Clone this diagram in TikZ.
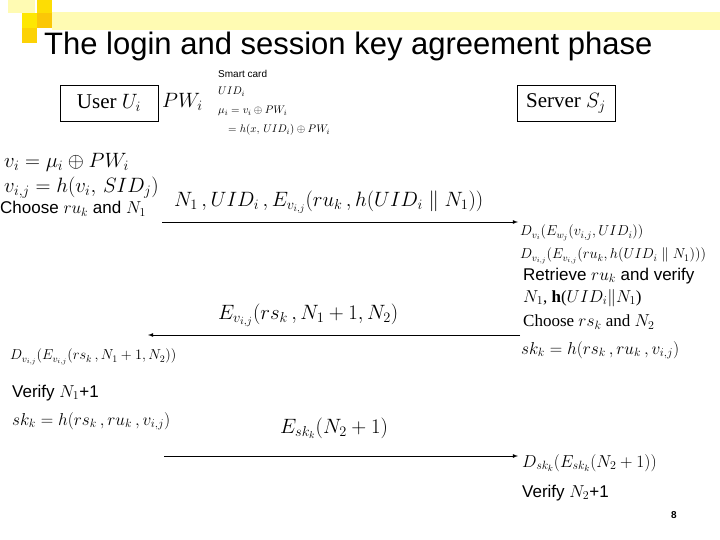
\documentclass[tikz,border=0pt]{standalone}
\usepackage{fontspec}
\setsansfont{Liberation Sans}
\setmainfont{Liberation Serif}
\newcommand{\fs}[1]{\fontsize{#1}{#1}\selectfont}
\begin{document}
\begin{tikzpicture}[x=1pt,y=-1pt,
 lab/.style={anchor=west,inner sep=0pt,font=\rmfamily\fs{20}},
 sm/.style={anchor=west,inner sep=0pt,font=\rmfamily\fs{11}},
 sf/.style={anchor=west,inner sep=0pt,font=\sffamily\fs{17}},
 msg/.style={-latex,thick}]
\useasboundingbox (0,0) rectangle (720,540);
\fill[yellow!30] (52,12) rectangle (720,30);
\fill[yellow!80!orange] (37,0) rectangle (52,13);
\fill[yellow!90!orange] (22,13) rectangle (37,28);
\fill[yellow!60!orange] (37,13) rectangle (52,28);
\fill[yellow!70!orange] (22,28) rectangle (37,43);
\fill[yellow!30] (8,0) rectangle (35,13);
\node[anchor=west,inner sep=0pt,font=\sffamily\fs{31}] (title) at (44,46) {The login and session key agreement phase};
\node[draw,thick,font=\rmfamily\fs{21},minimum width=98pt,minimum height=36pt] (user) at (109,103) {User $U_i$};
\node[draw,thick,font=\rmfamily\fs{21},minimum width=98pt,minimum height=36pt] (server) at (566,103) {Server $S_j$};
\node[lab,font=\rmfamily\fs{22}] (pw) at (162,102) {$PW_i$};
\node[sm,font=\sffamily\fs{10}] (sc) at (218,74) {Smart card};
\node[sm] (uid) at (218,92) {$UID_i$};
\node[sm] (mu) at (218,111) {$\mu_i=v_i\oplus PW_i$};
\node[sm] (mu2) at (228,130) {$=h(x,\,UID_i)\oplus PW_i$};
\node[lab] (vi) at (4,162) {$v_i=\mu_i\oplus PW_i$};
\node[lab] (vij) at (4,188) {$v_{i,j}=h(v_i,\,SID_j)$};
\node[sf] (ch1) at (0,209) {Choose $ru_k$ and $N_1$};
\node[lab,font=\rmfamily\fs{20}] (m1) at (174,202) {$N_1\,,UID_i\,,E_{v_{i,j}}(ru_k\,,h(UID_i\parallel N_1))$};
\coordinate (a1s) at (162,222); \coordinate (a1e) at (518,222);
\draw[msg] (a1s) -- (a1e);
\node[sm,font=\rmfamily\fs{14}] (d1) at (520,233) {$D_{v_i}(E_{w_j}(v_{i,j},UID_i))$};
\node[sm,font=\rmfamily\fs{14}] (d2) at (520,256) {$D_{v_{i,j}}(E_{v_{i,j}}(ru_k,h(UID_i\parallel N_1)))$};
\node[sf] (ret) at (523,276) {Retrieve $ru_k$ and verify};
\node[lab,font=\rmfamily\fs{17}] (n1) at (523,298) {$N_1$, \textbf{h}($UID_i\|N_1$)};
\node[lab,font=\rmfamily\fs{17}] (ch2) at (523,322) {Choose $rs_k$ and $N_2$};
\node[lab,font=\rmfamily\fs{17}] (sk1) at (521,350) {$sk_k=h(rs_k\,,ru_k\,,v_{i,j})$};
\node[lab,font=\rmfamily\fs{22.5}] (m2) at (218,315) {$E_{v_{i,j}}(rs_k\,,N_1+1,N_2)$};
\coordinate (a2s) at (520,335); \coordinate (a2e) at (148,335);
\draw[msg] (a2s) -- (a2e);
\node[sm,font=\rmfamily\fs{14}] (d3) at (10,357) {$D_{v_{i,j}}(E_{v_{i,j}}(rs_k\,,N_1+1,N_2))$};
\node[sf] (ver1) at (12,393) {Verify $N_1$+1};
\node[lab,font=\rmfamily\fs{17}] (sk2) at (12,421) {$sk_k=h(rs_k\,,ru_k\,,v_{i,j})$};
\node[lab,font=\rmfamily\fs{20}] (m3) at (280,428) {$E_{sk_k}(N_2+1)$};
\coordinate (a3s) at (164,456); \coordinate (a3e) at (518,456);
\draw[msg] (a3s) -- (a3e);
\node[lab,font=\rmfamily\fs{18}] (d4) at (522,463) {$D_{sk_k}(E_{sk_k}(N_2+1))$};
\node[sf] (ver2) at (522,493) {Verify $N_2$+1};
\node[font=\sffamily\bfseries\fs{10}] (pg) at (674,515) {8};
\end{tikzpicture}
\end{document}
